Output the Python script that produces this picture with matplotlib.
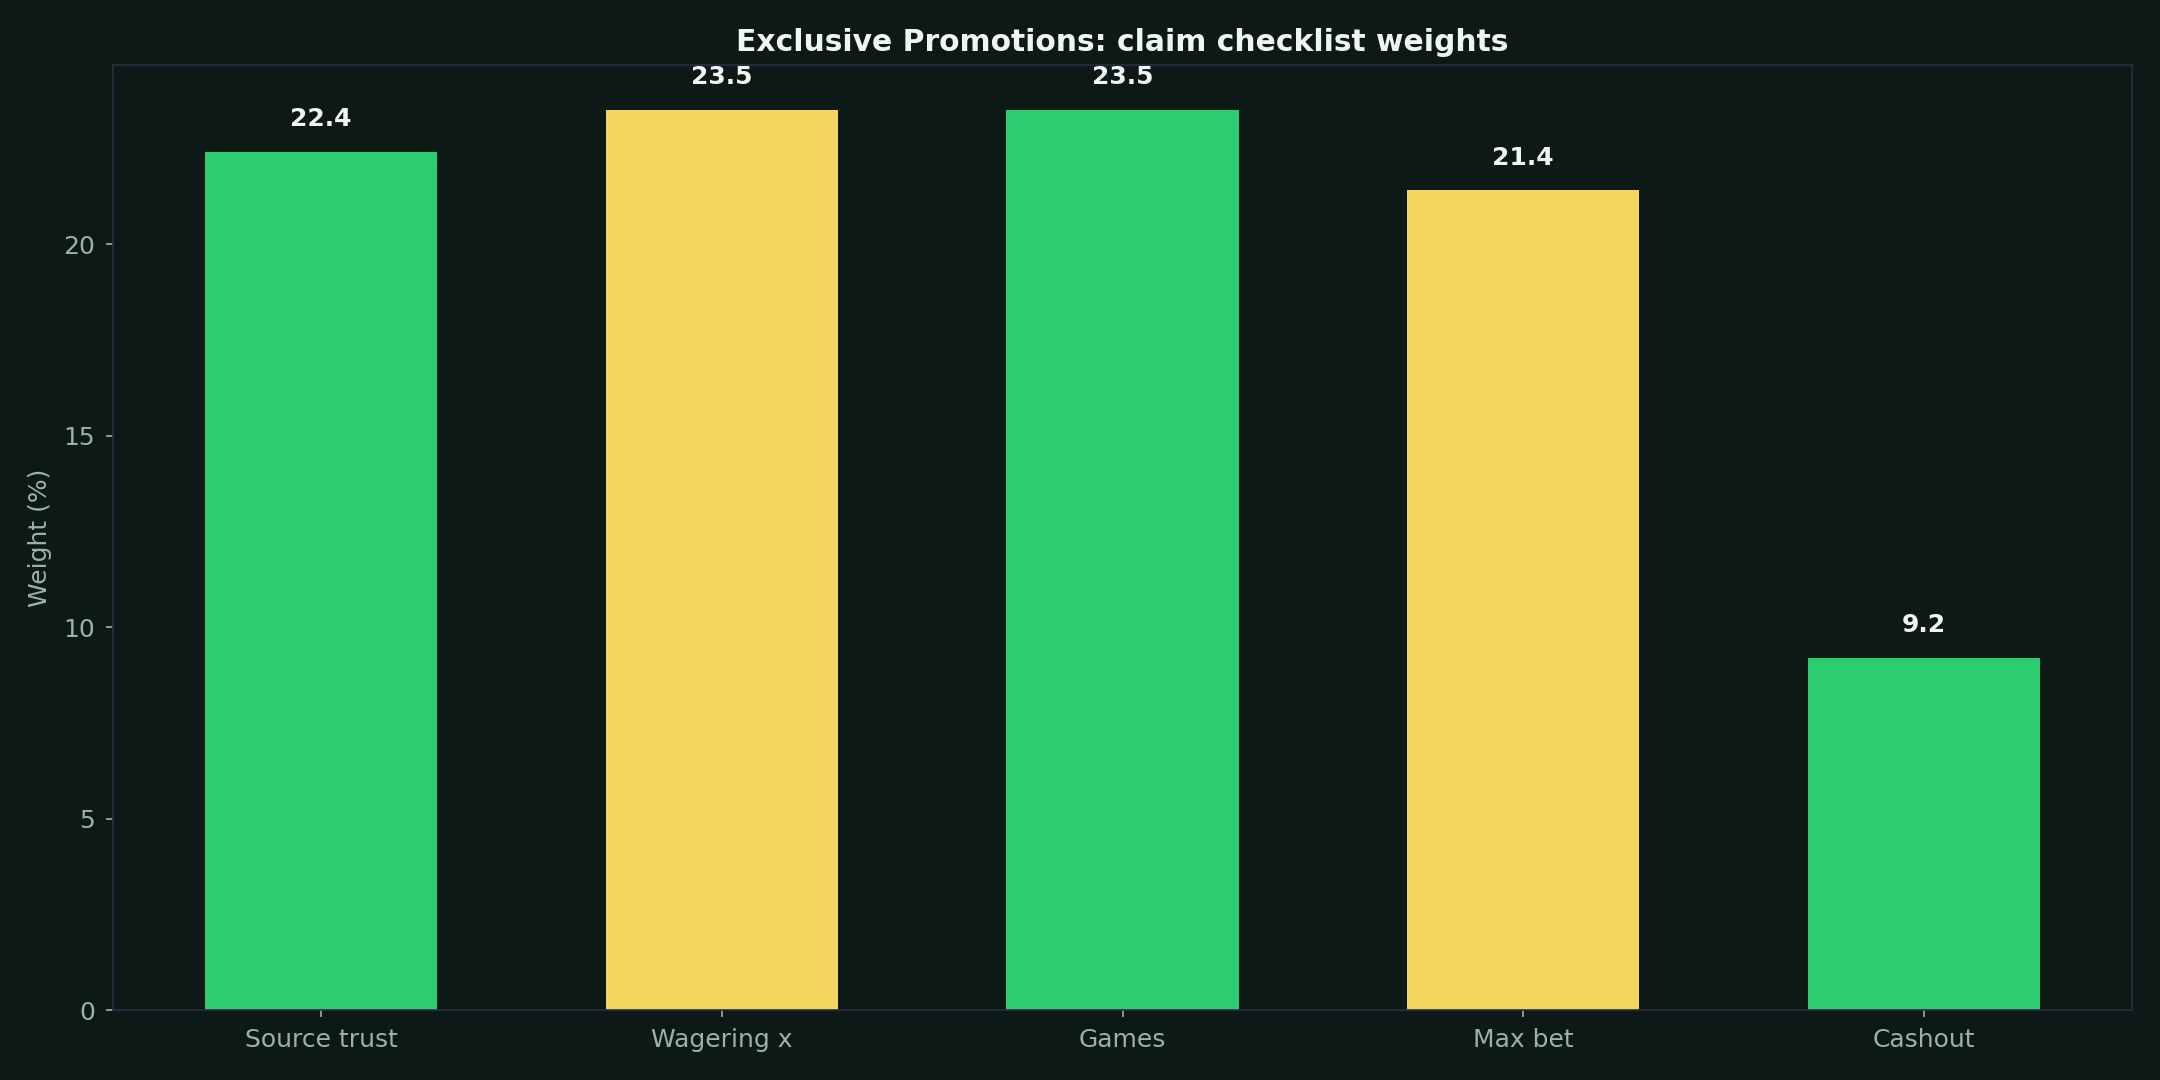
import matplotlib
matplotlib.use("Agg")
import matplotlib.pyplot as plt

categories = ["Source trust", "Wagering x", "Games", "Max bet", "Cashout"]
weights = [22.4, 23.5, 23.5, 21.4, 9.2]
bar_colors = ["#2ecc71", "#f4d35e", "#2ecc71", "#f4d35e", "#2ecc71"]
title = "Exclusive Promotions: claim checklist weights"
ylabel = "Weight (%)"

BG = "#0c1917"
SPINE = "#2a2e40"
TICK = "#9fb0a8"
TEXT = "#eef6f2"

fig, ax = plt.subplots(figsize=(14.4, 7.2), dpi=150)
fig.patch.set_facecolor(BG)
ax.set_facecolor(BG)

x = list(range(len(categories)))
bars = ax.bar(x, weights, width=0.58, color=bar_colors)
ax.set_xticks(x)
ax.set_xticklabels(categories)

for xi, v in zip(x, weights):
    ax.annotate(f"{v:.1f}", (xi, v), xytext=(0, 10), textcoords="offset points",
                ha="center", va="bottom", color=TEXT, fontsize=12, fontweight="bold")

ax.set_title(title, color=TEXT, fontsize=14.3, fontweight="bold", pad=6.5)
ax.set_ylabel(ylabel, color=TICK, fontsize=12, labelpad=5.5)
ax.tick_params(colors=TICK, labelsize=12, pad=5)
for s in ax.spines.values():
    s.set_color(SPINE)

fig.subplots_adjust(left=113/2160, right=2132/2160, top=1-65/1080, bottom=1-1010/1080)
fig.savefig("out.png", dpi=150, facecolor=BG)
